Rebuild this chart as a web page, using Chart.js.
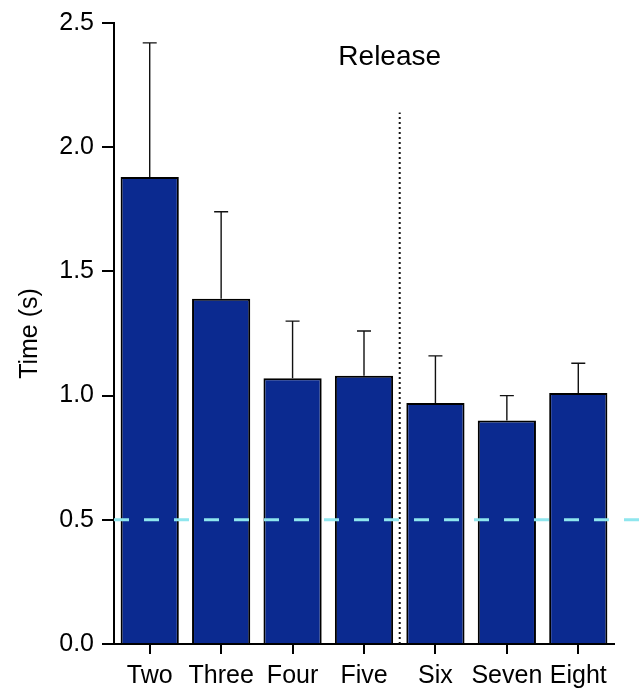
<!DOCTYPE html>
<html>
<head>
<meta charset="utf-8">
<script src="https://cdn.jsdelivr.net/npm/chart.js@4.4.1/dist/chart.umd.min.js"></script>
<style>
  html, body { margin: 0; padding: 0; background: #fff; }
  #wrap { width: 644px; height: 694px; }
</style>
</head>
<body>
<div id="wrap"><canvas id="barChart"></canvas></div>
<script>
// ---- data ----
const categories = ['Two', 'Three', 'Four', 'Five', 'Six', 'Seven', 'Eight'];
const meanTimes = [1.88, 1.39, 1.07, 1.08, 0.97, 0.90, 1.01];
const errUpper = [0.54, 0.35, 0.23, 0.18, 0.19, 0.10, 0.12];
const yTicks = [0.0, 0.5, 1.0, 1.5, 2.0, 2.5];
const refLineValue = 0.5;
const releaseSplit = 3.5;      // between Five and Six
const releaseLineTop = 2.14;
const releaseLabel = 'Release';
const releaseLabelPos = [3.36, 2.36];

const FONT = 'Arial, "Liberation Sans", Helvetica, sans-serif';
const INK = '#000';

// error bars (upper only), release divider, dashed reference line
const overlayPlugin = {
    id: 'overlay',
    afterDatasetsDraw(chart) {
        const { ctx, scales: { x, y }, chartArea } = chart;
        ctx.save();

        // error bars
        ctx.strokeStyle = '#111';
        ctx.lineWidth = 1.4;
        meanTimes.forEach((m, i) => {
            const px = x.getPixelForValue(i);
            const y0 = y.getPixelForValue(m);
            const y1 = y.getPixelForValue(m + errUpper[i]);
            ctx.beginPath();
            ctx.moveTo(px, y0);
            ctx.lineTo(px, y1);
            ctx.moveTo(px - 7, y1);
            ctx.lineTo(px + 7, y1);
            ctx.stroke();
        });

        // dotted divider
        const dx = x.getPixelForValue(releaseSplit);
        ctx.setLineDash([2, 3]);
        ctx.lineWidth = 2;
        ctx.strokeStyle = '#111';
        ctx.beginPath();
        ctx.moveTo(dx, y.getPixelForValue(0));
        ctx.lineTo(dx, y.getPixelForValue(releaseLineTop));
        ctx.stroke();

        // cyan reference line, runs off to the right edge
        const ry = y.getPixelForValue(refLineValue);
        ctx.setLineDash([15, 15]);
        ctx.lineWidth = 3;
        ctx.strokeStyle = '#8fe6ee';
        ctx.beginPath();
        ctx.moveTo(chartArea.left, ry);
        ctx.lineTo(chart.width, ry);
        ctx.stroke();

        // label
        ctx.setLineDash([]);
        ctx.fillStyle = INK;
        ctx.font = '28px ' + FONT;
        ctx.textAlign = 'center';
        ctx.textBaseline = 'middle';
        ctx.fillText(releaseLabel, x.getPixelForValue(releaseLabelPos[0]), y.getPixelForValue(releaseLabelPos[1]));
        ctx.restore();
    }
};

const ctx = document.getElementById('barChart').getContext('2d');
new Chart(ctx, {
    type: 'bar',
    data: {
        labels: categories,
        datasets: [{
            data: meanTimes,
            backgroundColor: '#0b2a90',
            borderColor: INK,
            borderWidth: 2,
            categoryPercentage: 1,
            barPercentage: 0.815
        }]
    },
    options: {
        responsive: true,
        maintainAspectRatio: false,
        animation: false,
        events: [],
        layout: { padding: { top: 21, right: 30, left: 0, bottom: 0 } },
        plugins: { legend: { display: false }, tooltip: { enabled: false } },
        scales: {
            x: {
                offset: true,
                grid: { offset: false, drawOnChartArea: false, tickLength: 10, color: INK, lineWidth: 2 },
                border: { display: true, color: INK, width: 2 },
                ticks: { color: INK, font: { family: FONT, size: 25 }, padding: 7, maxRotation: 0, autoSkip: false },
                afterFit: (s) => { s.height = 50; }
            },
            y: {
                min: 0,
                max: 2.5,
                afterBuildTicks: (s) => { s.ticks = yTicks.map(v => ({ value: v })); },
                grid: { drawOnChartArea: false, tickLength: 12, color: INK, lineWidth: 2 },
                border: { display: true, color: INK, width: 2 },
                ticks: { color: INK, font: { family: FONT, size: 25 }, padding: 8, callback: (v) => Number(v).toFixed(1) },
                title: { display: true, text: 'Time (s)', color: INK, font: { family: FONT, size: 25 }, padding: { top: 15, bottom: 0 } },
                afterFit: (s) => { s.width = 114; }
            }
        }
    },
    plugins: [overlayPlugin]
});
</script>
</body>
</html>
